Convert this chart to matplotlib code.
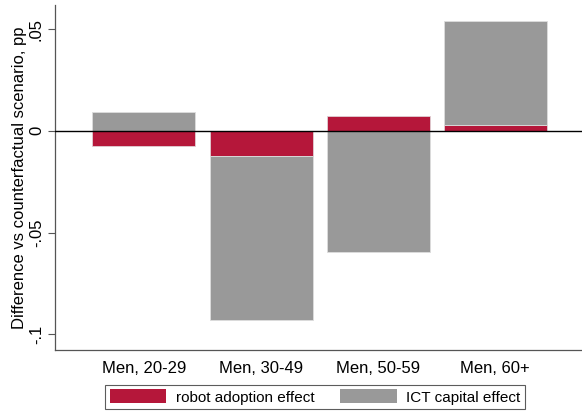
import matplotlib
matplotlib.use("Agg")
import matplotlib.pyplot as plt
import numpy as np
from matplotlib.patches import Patch

categories = ["Men, 20-29", "Men, 30-49", "Men, 50-59", "Men, 60+"]
robot_effect = [-0.0074, -0.0124, 0.0072, 0.0027]
ict_effect = [0.0090, -0.0806, -0.0595, 0.0513]
yticks = [0.05, 0.0, -0.05, -0.1]
ytick_labels = [".05", "0", "-.05", "-.1"]

RED = "#B5173A"
GRAY = "#999999"

plt.rcParams['font.family'] = ['Liberation Sans', 'DejaVu Sans']

fig = plt.figure(figsize=(5.82, 4.12), dpi=100)
ax = fig.add_axes([55/582, 1 - 350/412, 1 - 55/582, (350 - 5)/412])

x = np.arange(len(categories))
robot = np.array(robot_effect)
ict = np.array(ict_effect)
# stack positive and negative separately
ict_bottom = np.where(np.sign(ict) == np.sign(robot), robot, 0.0)

w = 0.88
ax.bar(x, robot, width=w, color=RED, edgecolor="#e0d0d4", linewidth=0.6, zorder=2)
ax.bar(x, ict, bottom=ict_bottom, width=w, color=GRAY, edgecolor="#dddddd", linewidth=0.6, zorder=2)
ax.axhline(0, color="black", linewidth=1.0, zorder=3)

ax.set_xlim(-0.759, 3.74)
ax.set_ylim(-0.1077, 0.0618)
ax.set_xticks(x)
ax.set_xticklabels(categories, fontsize=12)
ax.tick_params(axis='x', length=0, pad=8)
ax.set_yticks(yticks)
ax.set_yticklabels(ytick_labels, fontsize=12, rotation=90, va='center')
ax.tick_params(axis='y', length=5, width=0.8, color="#555555", pad=3)
ax.set_ylabel("Difference vs counterfactual scenario, pp", fontsize=12, labelpad=1)

for s in ["top", "right"]:
    ax.spines[s].set_visible(False)
for s in ["left", "bottom"]:
    ax.spines[s].set_color("#555555")
    ax.spines[s].set_linewidth(0.9)

handles = [Patch(facecolor=RED, edgecolor="none"), Patch(facecolor=GRAY, edgecolor="none")]
leg = fig.legend(handles, ["robot adoption effect", "ICT capital effect"], ncol=2,
                 loc="center", bbox_to_anchor=(315/582, 1 - 397/412), fontsize=11,
                 frameon=True, fancybox=False, edgecolor="#333333", handlelength=3.7,
                 handleheight=1.0, columnspacing=1.7, handletextpad=0.6,
                 borderpad=0.3, borderaxespad=0)
leg.get_frame().set_linewidth(0.8)

fig.savefig("out.png", dpi=100)
